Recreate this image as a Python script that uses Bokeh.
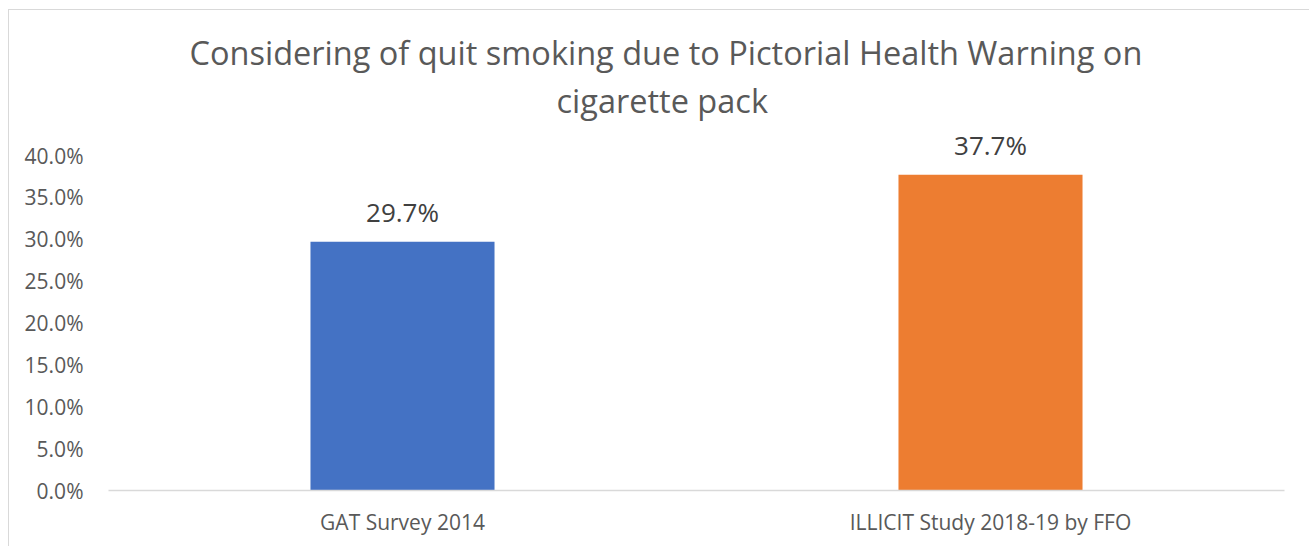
from bokeh.plotting import figure
from bokeh.models import ColumnDataSource, FixedTicker, NumeralTickFormatter, Title, FactorRange
from bokeh.core.properties import value
from bokeh.embed import file_html
from bokeh.resources import INLINE

categories = ["GAT Survey 2014", "ILLICIT Study 2018-19 by FFO"]
values = [0.297, 0.377]
labels = ["29.7%", "37.7%"]
colors = ["#4472C4", "#ED7D31"]
y_ticks = [0.0, 0.05, 0.10, 0.15, 0.20, 0.25, 0.30, 0.35, 0.40]
title_lines = ["Considering of quit smoking due to Pictorial Health Warning on", "cigarette pack"]
title_offsets = [81, 448]

FONT = "Open Sans"
GREY = "#595959"

src = ColumnDataSource(dict(cat=categories, val=values, lab=labels, col=colors))

p = figure(x_range=FactorRange(*categories), y_range=(0, 0.4395),
           width=1301, height=537, output_backend="svg", toolbar_location=None,
           min_border_left=99, min_border_right=26, min_border_bottom=57, min_border_top=112)
p.margin = (9, 0, 0, 8)
p.styles = {"border-left": "1px solid #d9d9d9", "border-top": "1px solid #d9d9d9"}

p.title.text = ""
p.title.visible = False
for i in (1, 0):
    p.add_layout(Title(text=title_lines[i], align="left", offset=title_offsets[i], text_font=FONT,
                       text_font_size="32.5px", text_font_style="normal", text_color=GREY,
                       standoff=0 if i == 1 else 2), "above")

p.vbar(x="cat", top="val", width=0.313, color="col", source=src, line_color=None)
p.text(x="cat", y="val", text="lab", source=src, text_align="center", text_baseline="alphabetic",
       y_offset=-30, text_font=value(FONT), text_font_size="26px", text_color="#404040")

p.xgrid.visible = False
p.ygrid.visible = False
p.outline_line_color = None
p.x_range.range_padding = 0
p.x_range.factor_padding = 0

p.yaxis.ticker = FixedTicker(ticks=y_ticks)
p.yaxis.formatter = NumeralTickFormatter(format="0.0%")
p.yaxis.axis_line_color = None
p.yaxis.major_tick_line_color = None
p.yaxis.minor_tick_line_color = None
p.yaxis.major_label_standoff = 19
p.yaxis.major_label_text_font = FONT
p.yaxis.major_label_text_font_size = "21px"
p.yaxis.major_label_text_color = GREY

p.xaxis.axis_line_color = "#D9D9D9"
p.xaxis.axis_line_width = 1.3
p.xaxis.major_tick_line_color = None
p.xaxis.minor_tick_line_color = None
p.xaxis.major_label_standoff = 11
p.xaxis.major_label_text_font = FONT
p.xaxis.major_label_text_font_size = "21px"
p.xaxis.major_label_text_color = GREY

open("out.html", "w").write(file_html(p, INLINE))
